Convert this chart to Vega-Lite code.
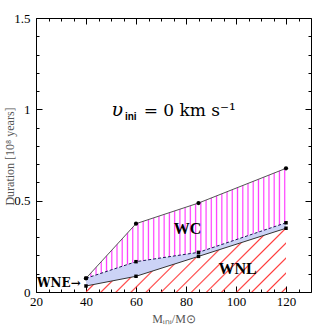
{
  "$schema": "https://vega.github.io/schema/vega-lite/v6.json",
  "width": 275,
  "height": 274,
  "autosize": {"type": "none"},
  "padding": {"left": 36, "top": 18, "right": 16, "bottom": 35},
  "background": "white",
  "config": {
    "view": {"stroke": "black", "strokeWidth": 1},
    "axis": {"grid": false, "domain": false, "tickColor": "black", "tickWidth": 1, "labelFont": "Liberation Serif", "labelFontSize": 13, "labelColor": "black", "titleFont": "Liberation Serif", "titleFontWeight": "normal", "titleColor": "#555", "titleFontSize": 12, "labelFlush": false}
  },
  "data": {"values": [
    {"M": 40, "wc_top": 0.075, "wne_top": 0.075, "wnl_top": 0.033},
    {"M": 60, "wc_top": 0.374, "wne_top": 0.166, "wnl_top": 0.086},
    {"M": 85, "wc_top": 0.487, "wne_top": 0.217, "wnl_top": 0.195},
    {"M": 120, "wc_top": 0.677, "wne_top": 0.379, "wnl_top": 0.349}
  ]},
  "resolve": {"axis": {"x": "independent", "y": "independent"}},
  "layer": [
    {
      "mark": {"type": "area", "fill": {"gradient": "linear", "x1": 0, "y1": 0, "x2": 1.1975, "y2": 0.3839, "stops": [
        {"offset": 0, "color": "rgba(255,59,59,0)"},
        {"offset": 0.0084, "color": "rgba(255,59,59,0)"}, {"offset": 0.0144, "color": "#ff3b3b"}, {"offset": 0.0204, "color": "rgba(255,59,59,0)"},
        {"offset": 0.0655, "color": "rgba(255,59,59,0)"}, {"offset": 0.0715, "color": "#ff3b3b"}, {"offset": 0.0775, "color": "rgba(255,59,59,0)"},
        {"offset": 0.1226, "color": "rgba(255,59,59,0)"}, {"offset": 0.1286, "color": "#ff3b3b"}, {"offset": 0.1346, "color": "rgba(255,59,59,0)"},
        {"offset": 0.1797, "color": "rgba(255,59,59,0)"}, {"offset": 0.1857, "color": "#ff3b3b"}, {"offset": 0.1917, "color": "rgba(255,59,59,0)"},
        {"offset": 0.2368, "color": "rgba(255,59,59,0)"}, {"offset": 0.2428, "color": "#ff3b3b"}, {"offset": 0.2488, "color": "rgba(255,59,59,0)"},
        {"offset": 0.2939, "color": "rgba(255,59,59,0)"}, {"offset": 0.2999, "color": "#ff3b3b"}, {"offset": 0.3059, "color": "rgba(255,59,59,0)"},
        {"offset": 0.351, "color": "rgba(255,59,59,0)"}, {"offset": 0.357, "color": "#ff3b3b"}, {"offset": 0.363, "color": "rgba(255,59,59,0)"},
        {"offset": 0.4081, "color": "rgba(255,59,59,0)"}, {"offset": 0.4141, "color": "#ff3b3b"}, {"offset": 0.4201, "color": "rgba(255,59,59,0)"},
        {"offset": 0.4652, "color": "rgba(255,59,59,0)"}, {"offset": 0.4712, "color": "#ff3b3b"}, {"offset": 0.4772, "color": "rgba(255,59,59,0)"},
        {"offset": 0.5223, "color": "rgba(255,59,59,0)"}, {"offset": 0.5283, "color": "#ff3b3b"}, {"offset": 0.5343, "color": "rgba(255,59,59,0)"},
        {"offset": 0.5794, "color": "rgba(255,59,59,0)"}, {"offset": 0.5854, "color": "#ff3b3b"}, {"offset": 0.5914, "color": "rgba(255,59,59,0)"},
        {"offset": 0.6365, "color": "rgba(255,59,59,0)"}, {"offset": 0.6425, "color": "#ff3b3b"}, {"offset": 0.6485, "color": "rgba(255,59,59,0)"},
        {"offset": 0.6936, "color": "rgba(255,59,59,0)"}, {"offset": 0.6996, "color": "#ff3b3b"}, {"offset": 0.7056, "color": "rgba(255,59,59,0)"},
        {"offset": 0.7507, "color": "rgba(255,59,59,0)"}, {"offset": 0.7567, "color": "#ff3b3b"}, {"offset": 0.7627, "color": "rgba(255,59,59,0)"},
        {"offset": 0.8078, "color": "rgba(255,59,59,0)"}, {"offset": 0.8138, "color": "#ff3b3b"}, {"offset": 0.8198, "color": "rgba(255,59,59,0)"},
        {"offset": 0.8649, "color": "rgba(255,59,59,0)"}, {"offset": 0.8709, "color": "#ff3b3b"}, {"offset": 0.8769, "color": "rgba(255,59,59,0)"},
        {"offset": 0.922, "color": "rgba(255,59,59,0)"}, {"offset": 0.928, "color": "#ff3b3b"}, {"offset": 0.934, "color": "rgba(255,59,59,0)"},
        {"offset": 0.9791, "color": "rgba(255,59,59,0)"}, {"offset": 0.9851, "color": "#ff3b3b"}, {"offset": 0.9911, "color": "rgba(255,59,59,0)"},
        {"offset": 1, "color": "rgba(255,59,59,0)"}
      ]}},
      "encoding": {
        "x": {"field": "M", "type": "quantitative", "scale": {"domain": [20, 130], "nice": false, "zero": false},
              "axis": {"orient": "bottom", "values": [20, 40, 60, 80, 100, 120], "tickSize": -6, "labelPadding": 9, "title": "Mᵢₙᵢ/M⊙", "titlePadding": 5}},
        "y": {"field": "wnl_top", "type": "quantitative", "scale": {"domain": [0, 1.5], "nice": false, "zero": false},
              "axis": {"orient": "left", "values": [0, 0.5, 1, 1.5], "format": "~g", "tickSize": -6, "labelPadding": 12, "title": "Duration [10⁸ years]", "titleX": -27, "titleY": 138, "titleBaseline": "middle", "titleAngle": -90, "titleAlign": "center"}},
        "y2": {"datum": 0}
      }
    },
    {
      "mark": {"type": "area", "fill": "#ccd3f6"},
      "encoding": {
        "x": {"field": "M", "type": "quantitative", "axis": {"orient": "bottom", "values": [25, 30, 35, 45, 50, 55, 65, 70, 75, 85, 90, 95, 105, 110, 115, 125], "tickSize": -3, "labels": false, "title": null}},
        "y": {"field": "wne_top", "type": "quantitative", "axis": {"orient": "left", "values": [0.1, 0.2, 0.3, 0.4, 0.6, 0.7, 0.8, 0.9, 1.1, 1.2, 1.3, 1.4], "tickSize": -3, "labels": false, "title": null}},
        "y2": {"field": "wnl_top"}
      }
    },
    {
      "mark": {"type": "area", "fill": {"gradient": "linear", "x1": 0, "y1": 0, "x2": 1, "y2": 0, "stops": [
        {"offset": 0, "color": "rgba(255,60,255,0)"},
        {"offset": 0.018, "color": "rgba(255,60,255,0)"}, {"offset": 0.024, "color": "#ff3cff"}, {"offset": 0.030, "color": "rgba(255,60,255,0)"},
        {"offset": 0.0442, "color": "rgba(255,60,255,0)"}, {"offset": 0.0502, "color": "#ff3cff"}, {"offset": 0.0562, "color": "rgba(255,60,255,0)"},
        {"offset": 0.0704, "color": "rgba(255,60,255,0)"}, {"offset": 0.0764, "color": "#ff3cff"}, {"offset": 0.0824, "color": "rgba(255,60,255,0)"},
        {"offset": 0.0966, "color": "rgba(255,60,255,0)"}, {"offset": 0.1026, "color": "#ff3cff"}, {"offset": 0.1086, "color": "rgba(255,60,255,0)"},
        {"offset": 0.1228, "color": "rgba(255,60,255,0)"}, {"offset": 0.1288, "color": "#ff3cff"}, {"offset": 0.1348, "color": "rgba(255,60,255,0)"},
        {"offset": 0.149, "color": "rgba(255,60,255,0)"}, {"offset": 0.155, "color": "#ff3cff"}, {"offset": 0.161, "color": "rgba(255,60,255,0)"},
        {"offset": 0.1752, "color": "rgba(255,60,255,0)"}, {"offset": 0.1812, "color": "#ff3cff"}, {"offset": 0.1872, "color": "rgba(255,60,255,0)"},
        {"offset": 0.2014, "color": "rgba(255,60,255,0)"}, {"offset": 0.2074, "color": "#ff3cff"}, {"offset": 0.2134, "color": "rgba(255,60,255,0)"},
        {"offset": 0.2276, "color": "rgba(255,60,255,0)"}, {"offset": 0.2336, "color": "#ff3cff"}, {"offset": 0.2396, "color": "rgba(255,60,255,0)"},
        {"offset": 0.2538, "color": "rgba(255,60,255,0)"}, {"offset": 0.2598, "color": "#ff3cff"}, {"offset": 0.2658, "color": "rgba(255,60,255,0)"},
        {"offset": 0.28, "color": "rgba(255,60,255,0)"}, {"offset": 0.286, "color": "#ff3cff"}, {"offset": 0.292, "color": "rgba(255,60,255,0)"},
        {"offset": 0.3062, "color": "rgba(255,60,255,0)"}, {"offset": 0.3122, "color": "#ff3cff"}, {"offset": 0.3182, "color": "rgba(255,60,255,0)"},
        {"offset": 0.3324, "color": "rgba(255,60,255,0)"}, {"offset": 0.3384, "color": "#ff3cff"}, {"offset": 0.3444, "color": "rgba(255,60,255,0)"},
        {"offset": 0.3586, "color": "rgba(255,60,255,0)"}, {"offset": 0.3646, "color": "#ff3cff"}, {"offset": 0.3706, "color": "rgba(255,60,255,0)"},
        {"offset": 0.3848, "color": "rgba(255,60,255,0)"}, {"offset": 0.3908, "color": "#ff3cff"}, {"offset": 0.3968, "color": "rgba(255,60,255,0)"},
        {"offset": 0.411, "color": "rgba(255,60,255,0)"}, {"offset": 0.417, "color": "#ff3cff"}, {"offset": 0.423, "color": "rgba(255,60,255,0)"},
        {"offset": 0.4372, "color": "rgba(255,60,255,0)"}, {"offset": 0.4432, "color": "#ff3cff"}, {"offset": 0.4492, "color": "rgba(255,60,255,0)"},
        {"offset": 0.4634, "color": "rgba(255,60,255,0)"}, {"offset": 0.4694, "color": "#ff3cff"}, {"offset": 0.4754, "color": "rgba(255,60,255,0)"},
        {"offset": 0.4896, "color": "rgba(255,60,255,0)"}, {"offset": 0.4956, "color": "#ff3cff"}, {"offset": 0.5016, "color": "rgba(255,60,255,0)"},
        {"offset": 0.5158, "color": "rgba(255,60,255,0)"}, {"offset": 0.5218, "color": "#ff3cff"}, {"offset": 0.5278, "color": "rgba(255,60,255,0)"},
        {"offset": 0.542, "color": "rgba(255,60,255,0)"}, {"offset": 0.548, "color": "#ff3cff"}, {"offset": 0.554, "color": "rgba(255,60,255,0)"},
        {"offset": 0.5682, "color": "rgba(255,60,255,0)"}, {"offset": 0.5742, "color": "#ff3cff"}, {"offset": 0.5802, "color": "rgba(255,60,255,0)"},
        {"offset": 0.5944, "color": "rgba(255,60,255,0)"}, {"offset": 0.6004, "color": "#ff3cff"}, {"offset": 0.6064, "color": "rgba(255,60,255,0)"},
        {"offset": 0.6206, "color": "rgba(255,60,255,0)"}, {"offset": 0.6266, "color": "#ff3cff"}, {"offset": 0.6326, "color": "rgba(255,60,255,0)"},
        {"offset": 0.6468, "color": "rgba(255,60,255,0)"}, {"offset": 0.6528, "color": "#ff3cff"}, {"offset": 0.6588, "color": "rgba(255,60,255,0)"},
        {"offset": 0.673, "color": "rgba(255,60,255,0)"}, {"offset": 0.679, "color": "#ff3cff"}, {"offset": 0.685, "color": "rgba(255,60,255,0)"},
        {"offset": 0.6992, "color": "rgba(255,60,255,0)"}, {"offset": 0.7052, "color": "#ff3cff"}, {"offset": 0.7112, "color": "rgba(255,60,255,0)"},
        {"offset": 0.7254, "color": "rgba(255,60,255,0)"}, {"offset": 0.7314, "color": "#ff3cff"}, {"offset": 0.7374, "color": "rgba(255,60,255,0)"},
        {"offset": 0.7516, "color": "rgba(255,60,255,0)"}, {"offset": 0.7576, "color": "#ff3cff"}, {"offset": 0.7636, "color": "rgba(255,60,255,0)"},
        {"offset": 0.7778, "color": "rgba(255,60,255,0)"}, {"offset": 0.7838, "color": "#ff3cff"}, {"offset": 0.7898, "color": "rgba(255,60,255,0)"},
        {"offset": 0.804, "color": "rgba(255,60,255,0)"}, {"offset": 0.81, "color": "#ff3cff"}, {"offset": 0.816, "color": "rgba(255,60,255,0)"},
        {"offset": 0.8302, "color": "rgba(255,60,255,0)"}, {"offset": 0.8362, "color": "#ff3cff"}, {"offset": 0.8422, "color": "rgba(255,60,255,0)"},
        {"offset": 0.8564, "color": "rgba(255,60,255,0)"}, {"offset": 0.8624, "color": "#ff3cff"}, {"offset": 0.8684, "color": "rgba(255,60,255,0)"},
        {"offset": 0.8826, "color": "rgba(255,60,255,0)"}, {"offset": 0.8886, "color": "#ff3cff"}, {"offset": 0.8946, "color": "rgba(255,60,255,0)"},
        {"offset": 0.9088, "color": "rgba(255,60,255,0)"}, {"offset": 0.9148, "color": "#ff3cff"}, {"offset": 0.9208, "color": "rgba(255,60,255,0)"},
        {"offset": 0.935, "color": "rgba(255,60,255,0)"}, {"offset": 0.941, "color": "#ff3cff"}, {"offset": 0.947, "color": "rgba(255,60,255,0)"},
        {"offset": 0.9612, "color": "rgba(255,60,255,0)"}, {"offset": 0.9672, "color": "#ff3cff"}, {"offset": 0.9732, "color": "rgba(255,60,255,0)"},
        {"offset": 0.9874, "color": "rgba(255,60,255,0)"}, {"offset": 0.9934, "color": "#ff3cff"}, {"offset": 0.9994, "color": "rgba(255,60,255,0)"},
        {"offset": 1, "color": "rgba(255,60,255,0)"}
      ]}},
      "encoding": {
        "x": {"field": "M", "type": "quantitative", "axis": {"orient": "top", "values": [20, 40, 60, 80, 100, 120], "tickSize": -6, "labels": false, "title": null}},
        "y": {"field": "wc_top", "type": "quantitative", "axis": {"orient": "right", "values": [0, 0.5, 1, 1.5], "tickSize": -6, "labels": false, "title": null}},
        "y2": {"field": "wne_top"}
      }
    },
    {
      "mark": {"type": "line", "color": "#555", "strokeWidth": 1},
      "encoding": {
        "x": {"field": "M", "type": "quantitative", "axis": {"orient": "top", "values": [25, 30, 35, 45, 50, 55, 65, 70, 75, 85, 90, 95, 105, 110, 115, 125], "tickSize": -3, "labels": false, "title": null}},
        "y": {"field": "wc_top", "type": "quantitative", "axis": {"orient": "right", "values": [0.1, 0.2, 0.3, 0.4, 0.6, 0.7, 0.8, 0.9, 1.1, 1.2, 1.3, 1.4], "tickSize": -3, "labels": false, "title": null}}
      }
    },
    {
      "mark": {"type": "line", "color": "#1a1a55", "strokeWidth": 1, "strokeDash": [3, 2]},
      "encoding": {
        "x": {"field": "M", "type": "quantitative", "axis": null},
        "y": {"field": "wne_top", "type": "quantitative", "axis": null}
      }
    },
    {
      "mark": {"type": "line", "color": "#333", "strokeWidth": 1},
      "encoding": {
        "x": {"field": "M", "type": "quantitative", "axis": null},
        "y": {"field": "wnl_top", "type": "quantitative", "axis": null}
      }
    },
    {
      "mark": {"type": "point", "filled": true, "color": "black", "size": 18, "opacity": 1},
      "encoding": {
        "x": {"field": "M", "type": "quantitative", "axis": null},
        "y": {"field": "wc_top", "type": "quantitative", "axis": null}
      }
    },
    {
      "mark": {"type": "point", "filled": true, "shape": "square", "color": "black", "size": 12, "opacity": 1},
      "encoding": {
        "x": {"field": "M", "type": "quantitative", "axis": null},
        "y": {"field": "wne_top", "type": "quantitative", "axis": null}
      }
    },
    {
      "mark": {"type": "point", "filled": true, "shape": "square", "color": "black", "size": 12, "opacity": 1},
      "encoding": {
        "x": {"field": "M", "type": "quantitative", "axis": null},
        "y": {"field": "wnl_top", "type": "quantitative", "axis": null}
      }
    },
    {
      "data": {"values": [{}]},
      "mark": {"type": "text", "text": "υ", "font": "DejaVu Serif", "fontStyle": "italic", "fontSize": 19, "align": "center", "baseline": "alphabetic", "color": "black"},
      "encoding": {
        "x": {"datum": 52.5, "type": "quantitative", "axis": null},
        "y": {"datum": 0.965, "type": "quantitative", "axis": null}
      }
    },
    {
      "data": {"values": [{}]},
      "mark": {"type": "text", "text": "ini", "font": "Liberation Sans", "fontWeight": "bold", "fontSize": 10, "align": "center", "baseline": "alphabetic", "color": "black"},
      "encoding": {
        "x": {"datum": 57.9, "type": "quantitative", "axis": null},
        "y": {"datum": 0.94, "type": "quantitative", "axis": null}
      }
    },
    {
      "data": {"values": [{}]},
      "mark": {"type": "text", "text": "=  0  km  s⁻¹", "font": "DejaVu Serif", "fontSize": 17, "align": "center", "baseline": "alphabetic", "color": "black"},
      "encoding": {
        "x": {"datum": 81.5, "type": "quantitative", "axis": null},
        "y": {"datum": 0.965, "type": "quantitative", "axis": null}
      }
    },
    {
      "data": {"values": [{}]},
      "mark": {"type": "text", "text": "WC", "font": "Liberation Serif", "fontWeight": "bold", "fontSize": 16, "align": "center", "baseline": "middle", "color": "black"},
      "encoding": {
        "x": {"datum": 80.6, "type": "quantitative", "axis": null},
        "y": {"datum": 0.345, "type": "quantitative", "axis": null}
      }
    },
    {
      "data": {"values": [{}]},
      "mark": {"type": "text", "text": "WNL", "font": "Liberation Serif", "fontWeight": "bold", "fontSize": 16, "align": "center", "baseline": "middle", "color": "black"},
      "encoding": {
        "x": {"datum": 100.6, "type": "quantitative", "axis": null},
        "y": {"datum": 0.124, "type": "quantitative", "axis": null}
      }
    },
    {
      "data": {"values": [{}]},
      "mark": {"type": "text", "text": "WNE→", "font": "DejaVu Serif", "fontWeight": "bold", "fontSize": 12, "align": "right", "baseline": "middle", "color": "black"},
      "encoding": {
        "x": {"datum": 37.9, "type": "quantitative", "axis": null},
        "y": {"datum": 0.048, "type": "quantitative", "axis": null}
      }
    }
  ]
}
